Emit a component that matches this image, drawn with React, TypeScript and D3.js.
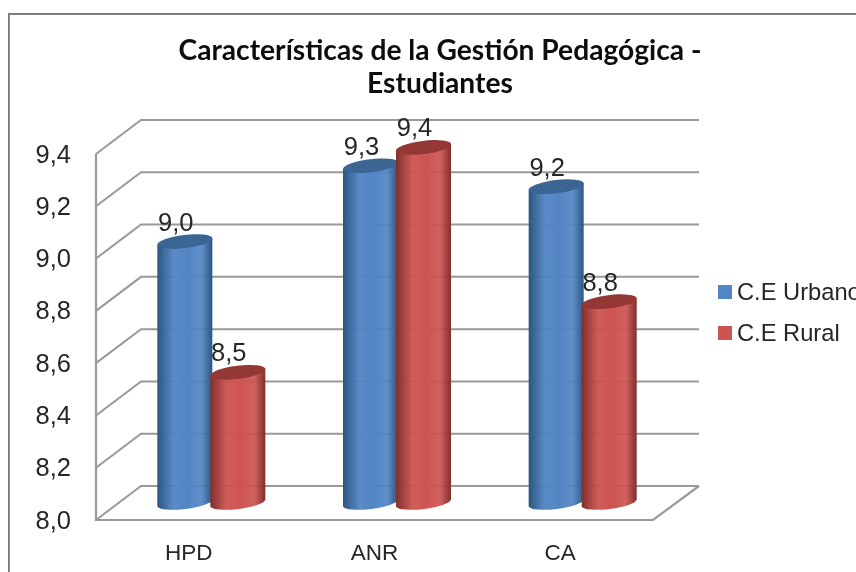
import React from "react";
import * as d3 from "d3";

const categories = ["HPD", "ANR", "CA"];
const seriesNames = ["C.E Urbano", "C.E Rural"];
const urbano = [9.0, 9.29, 9.21];
const rural = [8.5, 9.36, 8.77];
const ticks = [8.0, 8.2, 8.4, 8.6, 8.8, 9.0, 9.2, 9.4];
const titleLines = ["Características de la Gestión Pedagógica -", "Estudiantes"];

const fmt = (v: number) => v.toFixed(1).replace(".", ",");
const depthX = 45;
const depthY = 34;

const y = d3.scaleLinear().domain([8, 9.4]).range([520, 154]);
const x = d3.scaleBand().domain(categories).range([96, 653]);

const palette = [
  { id: "gb", edge: "#2c5582", mid: "#5285c4", top: "#3a6593" },
  { id: "gr", edge: "#7f2f2d", mid: "#cd5451", top: "#943735" },
];

const RX = 27.8;
const RY = 6.6;
const TILT = -7;
const HALF = 27.5;
const DY = 3.4;

function Cyl({ cx, v, i }: { cx: number; v: number; i: number }) {
  const top = y(v) - depthY / 2;
  const bot = y(8) - depthY / 2;
  const body = `M${cx - HALF},${top + DY} L${cx - HALF},${bot + DY} A${RX},${RY} ${TILT} 0 0 ${cx + HALF},${bot - DY} L${cx + HALF},${top - DY} Z`;
  return (
    <g>
      <path d={body} fill={`url(#${palette[i].id})`} />
      <ellipse cx={cx} cy={top} rx={RX} ry={RY} transform={`rotate(${TILT} ${cx} ${top})`} fill={palette[i].top} />
    </g>
  );
}

export default function App() {
  const gridColor = "#999999";
  const textColor = "#262626";
  const font = "'Liberation Sans', Arial, sans-serif";
  return (
    <svg width={856} height={572} style={{ position: "absolute", left: 0, top: 0, background: "#fff" }}>
      <defs>
        {palette.map((p) => (
          <linearGradient key={p.id} id={p.id} x1="0" x2="1" y1="0" y2="0">
            <stop offset="0" stopColor={p.edge} />
            <stop offset="0.3" stopColor={p.mid} stopOpacity={0.95} />
            <stop offset="0.55" stopColor={p.mid} />
            <stop offset="0.8" stopColor={p.mid} stopOpacity={0.92} />
            <stop offset="1" stopColor={p.edge} />
          </linearGradient>
        ))}
        <filter id="soft" x="0" y="0" width="100%" height="100%">
          <feGaussianBlur stdDeviation="0.45" />
        </filter>
      </defs>
      <g filter="url(#soft)">
        <path d="M8.5,572 L8.5,13.5 L856,13.5" fill="none" stroke="#7c7c7c" strokeWidth={2.8} />

        {ticks.map((t) => (
          <g key={t}>
            <path
              d={`M96,${y(t)} L${96 + depthX},${y(t) - depthY} L699,${y(t) - depthY}`}
              fill="none"
              stroke={gridColor}
              strokeWidth={2}
            />
            <text x={71} y={y(t) + 8.5} textAnchor="end" fontFamily={font} fontSize={25.5} fill={textColor}>
              {fmt(t)}
            </text>
          </g>
        ))}
        <path d={`M96,${y(9.4)} L96,${y(8)} L653,${y(8)} L699,${y(8) - depthY}`} fill="none" stroke={gridColor} strokeWidth={2.2} />

        {categories.map((c, k) => {
          const center = (x(c) as number) + x.bandwidth() / 2 + depthX / 2;
          const offs = [center - 26.5, center + 26.5];
          const vals = [urbano[k], rural[k]];
          return (
            <g key={c}>
              {vals.map((v, i) => (
                <Cyl key={i} cx={offs[i]} v={v} i={i} />
              ))}
              {vals.map((v, i) => (
                <text key={i} x={offs[i] - 9} y={y(v) - depthY / 2 - 11} textAnchor="middle" fontFamily={font} fontSize={25.5} fill={textColor}>
                  {fmt(v)}
                </text>
              ))}
              <text x={center - depthX / 2} y={560} textAnchor="middle" fontFamily={font} fontSize={22.5} fill={textColor}>
                {c}
              </text>
            </g>
          );
        })}

        {seriesNames.map((s, i) => (
          <g key={s}>
            <rect x={718} y={285 + i * 41} width={14} height={14} fill={palette[i].mid} />
            <text x={737} y={300 + i * 41} fontFamily={font} fontSize={23.7} fill={textColor}>
              {s}
            </text>
          </g>
        ))}

        {titleLines.map((t, i) => (
          <text
            key={t}
            x={440}
            y={60 + i * 33}
            textAnchor="middle"
            fontFamily="Lato, sans-serif"
            fontWeight={700}
            fontSize={28.2}
            fill="#111"
          >
            {t}
          </text>
        ))}
      </g>
    </svg>
  );
}
